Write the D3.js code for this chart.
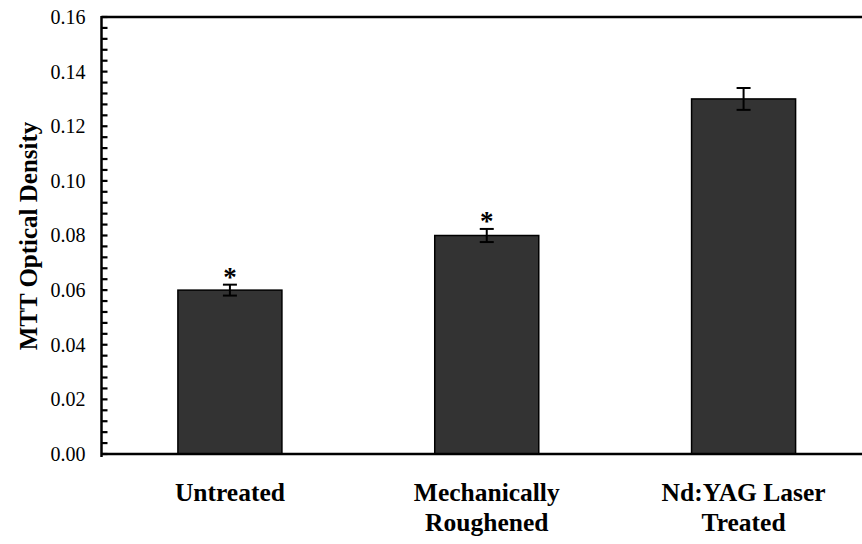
<!DOCTYPE html>
<html>
<head>
<meta charset="utf-8">
<script src="https://cdn.jsdelivr.net/npm/d3@7"></script>
<style>
  body { margin: 0; background: #fff; }
  text { font-family: "Liberation Serif", "Times New Roman", serif; }
</style>
</head>
<body>
<svg width="862" height="544"></svg>
<script>
const categories = [['Untreated'], ['Mechanically', 'Roughened'], ['Nd:YAG Laser', 'Treated']];
const means = [0.06, 0.08, 0.13];
const errors = [0.002, 0.0024, 0.004];
const stars = ['*', '*', ''];
const yTicks = [0, 0.02, 0.04, 0.06, 0.08, 0.10, 0.12, 0.14, 0.16];

const svg = d3.select('svg');
const width = +svg.attr('width');
const height = +svg.attr('height');

const plotLeft = 101.5, plotTop = 17, plotBottom = 454, plotRight = 872;

const x = d3.scaleBand()
    .domain(d3.range(categories.length))
    .range([plotLeft, plotRight])
    .paddingInner(0.595)
    .paddingOuter(0.2975);

const y = d3.scaleLinear().domain([0, 0.16]).range([plotBottom, plotTop]);

// bars
svg.selectAll('rect.bar')
  .data(means)
  .join('rect')
    .attr('class', 'bar')
    .attr('x', (d, i) => x(i))
    .attr('y', d => y(d))
    .attr('width', x.bandwidth())
    .attr('height', d => y(0) - y(d))
    .attr('fill', '#333333')
    .attr('stroke', '#000')
    .attr('stroke-width', 1.5);

// error bars
const eb = svg.selectAll('g.err')
  .data(means)
  .join('g')
    .attr('class', 'err')
    .attr('transform', (d, i) => `translate(${x(i) + x.bandwidth() / 2},0)`);

eb.append('line')
    .attr('y1', (d, i) => y(d + errors[i]))
    .attr('y2', (d, i) => y(d - errors[i]))
    .attr('stroke', '#000').attr('stroke-width', 2);
eb.append('line')
    .attr('x1', -7).attr('x2', 7)
    .attr('y1', (d, i) => y(d + errors[i]))
    .attr('y2', (d, i) => y(d + errors[i]))
    .attr('stroke', '#000').attr('stroke-width', 2);
eb.append('line')
    .attr('x1', -7).attr('x2', 7)
    .attr('y1', (d, i) => y(d - errors[i]))
    .attr('y2', (d, i) => y(d - errors[i]))
    .attr('stroke', '#000').attr('stroke-width', 2);
eb.append('text')
    .attr('y', (d, i) => y(d + errors[i]) + 1)
    .attr('text-anchor', 'middle')
    .attr('font-size', 27)
    .attr('font-weight', 'bold')
    .text((d, i) => stars[i]);

// y axis with inward minor ticks
const minor = d3.range(0, 0.1601, 0.004);
svg.append('g')
    .attr('transform', `translate(${plotLeft},0)`)
    .call(d3.axisRight(y).tickValues(minor).tickSize(6).offset(0).tickFormat(''))
    .call(g => g.select('.domain').remove())
    .selectAll('line').attr('stroke', '#000').attr('stroke-width', 2.2);

svg.append('g')
    .attr('transform', `translate(${plotLeft},0)`)
    .call(d3.axisLeft(y).tickValues(yTicks).tickSize(0).tickPadding(16).tickFormat(d3.format('.2f')))
    .call(g => g.select('.domain').remove())
    .selectAll('text')
    .attr('font-size', 20)
    .attr('fill', '#000')
    .style('font-family', '"Liberation Serif", "Times New Roman", serif');

// frame
svg.append('line')
    .attr('x1', plotLeft).attr('x2', plotLeft).attr('y1', plotTop - 1).attr('y2', plotBottom + 3)
    .attr('stroke', '#000').attr('stroke-width', 2.5);
svg.append('line')
    .attr('x1', plotLeft).attr('x2', width).attr('y1', plotBottom).attr('y2', plotBottom)
    .attr('stroke', '#000').attr('stroke-width', 2.5);
svg.append('line')
    .attr('x1', plotLeft).attr('x2', width).attr('y1', plotTop).attr('y2', plotTop)
    .attr('stroke', '#000').attr('stroke-width', 2.5);

// category labels
const xl = svg.selectAll('text.cat')
  .data(categories)
  .join('text')
    .attr('class', 'cat')
    .attr('text-anchor', 'middle')
    .attr('font-size', 25.5)
    .attr('font-weight', 'bold')
    .attr('transform', (d, i) => `translate(${x(i) + x.bandwidth() / 2},501)`);
xl.selectAll('tspan')
  .data(d => d)
  .join('tspan')
    .attr('x', 0)
    .attr('dy', (d, j) => j === 0 ? 0 : 30)
    .text(d => d);

// y title
svg.append('text')
    .attr('transform', 'translate(37,236) rotate(-90)')
    .attr('text-anchor', 'middle')
    .attr('font-size', 25)
    .attr('font-weight', 'bold')
    .text('MTT Optical Density');
</script>
</body>
</html>
